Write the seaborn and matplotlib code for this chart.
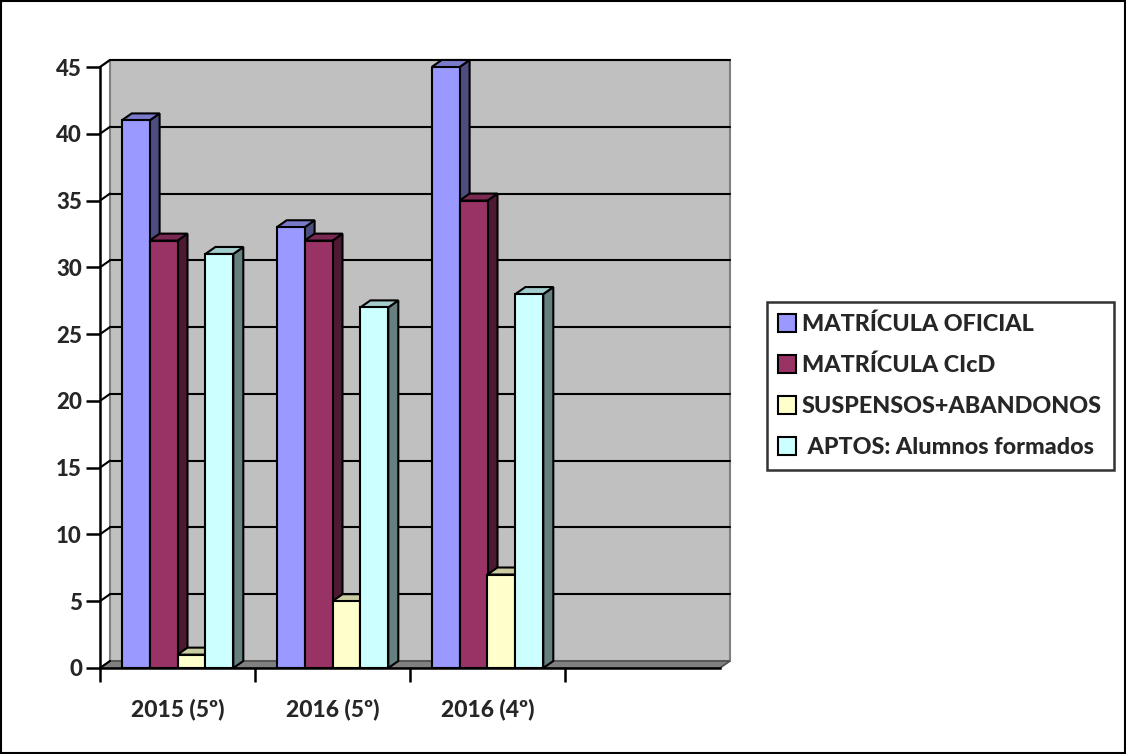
import numpy as np
import pandas as pd
import matplotlib
matplotlib.use("Agg")
import matplotlib.pyplot as plt
import matplotlib.colors as mcolors
from matplotlib.patches import Polygon, Rectangle
from matplotlib.lines import Line2D
import seaborn as sns

# Data
cursos = ["2015 (5º)", "2016 (5º)", "2016 (4º)", ""]
series = ["MATRÍCULA OFICIAL", "MATRÍCULA CIcD", "SUSPENSOS+ABANDONOS", "APTOS: Alumnos formados"]
matricula_oficial = [41, 33, 45]
matricula_cicd = [32, 32, 35]
suspensos = [1, 5, 7]
aptos = [31, 27, 28]
colores = ["#9999FF", "#993366", "#FFFFCC", "#CCFFFF"]
legend_labels = ["MATRÍCULA OFICIAL", "MATRÍCULA CIcD", "SUSPENSOS+ABANDONOS", " APTOS: Alumnos formados"]

rows = []
for serie, vals in zip(series, [matricula_oficial, matricula_cicd, suspensos, aptos]):
    for curso, v in zip(cursos[:3], vals):
        rows.append({"curso": curso, "serie": serie, "valor": v})
df = pd.DataFrame(rows)

sns.set_style("white")
plt.rcParams["font.family"] = ["Lato", "DejaVu Sans"]
FW = 900

W, H = 1126, 754
fig = plt.figure(figsize=(W / 100, H / 100), dpi=100)
ax_l, ax_r, ax_b, ax_t = 100, 720, 668, 67
ax = fig.add_axes([ax_l / W, 1 - ax_b / H, (ax_r - ax_l) / W, (ax_b - ax_t) / H])
ax.set_facecolor("none")

sns.barplot(data=df, x="curso", y="valor", hue="serie", order=cursos, hue_order=series,
            palette=colores, width=0.72, saturation=1, edgecolor="black", linewidth=1.5,
            legend=False, ax=ax)

ax.set_xlim(-0.5, 3.5)
ax.set_ylim(0, 45)

# 3D depth in data units
dx = 10 / ((ax_r - ax_l) / 4)
dy = 7 / ((ax_b - ax_t) / 45)
x0, x1 = -0.5, 3.5

# back wall
ax.add_patch(Rectangle((x0 + dx, dy), x1 - x0, 45, facecolor="#C0C0C0", edgecolor="#808080",
                       linewidth=1.5, zorder=0, clip_on=False))
# floor
ax.add_patch(Polygon([(x0, 0), (x1, 0), (x1 + dx, dy), (x0 + dx, dy)], closed=True,
                     facecolor="#808080", edgecolor="#505050", linewidth=1.2, zorder=0.5, clip_on=False))
# left wall edge
ax.plot([x0, x0 + dx], [45, 45 + dy], color="#808080", lw=1.5, zorder=0.6, clip_on=False)
# gridlines on back wall + connectors
for v in range(5, 50, 5):
    ax.plot([x0 + dx, x1 + dx], [v + dy, v + dy], color="black", lw=1.5, zorder=1, clip_on=False)
for v in range(0, 50, 5):
    ax.plot([x0, x0 + dx], [v, v + dy], color="black", lw=1.5, zorder=1, clip_on=False)

# fake 3D on bars
bars = sorted([p for p in ax.patches if isinstance(p, Rectangle) and p.get_height() > 0
               and p.get_zorder() > 0.9], key=lambda p: p.get_x())
for i, p in enumerate(bars):
    x, w, h = p.get_x(), p.get_width(), p.get_height()
    fc = np.array(mcolors.to_rgb(p.get_facecolor()))
    side = Polygon([(x + w, 0), (x + w + dx, dy), (x + w + dx, h + dy), (x + w, h)], closed=True,
                   facecolor=fc * 0.5, edgecolor="black", linewidth=1.5, zorder=3 + 2 * i, clip_on=False)
    top = Polygon([(x, h), (x + dx, h + dy), (x + w + dx, h + dy), (x + w, h)], closed=True,
                  facecolor=fc * 0.8, edgecolor="black", linewidth=1.5, zorder=3 + 2 * i, clip_on=False)
    ax.add_patch(side)
    ax.add_patch(top)
    p.set_zorder(4 + 2 * i)

# axes styling
for s in ["top", "right"]:
    ax.spines[s].set_visible(False)
for s in ["left", "bottom"]:
    ax.spines[s].set_color("black")
    ax.spines[s].set_linewidth(1.8)
    ax.spines[s].set_zorder(50)
ax.set_yticks(range(0, 50, 5))
ax.tick_params(axis="y", left=True, length=10, width=1.8, direction="out", labelsize=16, pad=3, color="black")
ax.set_xticks(range(4))
ax.set_xticklabels(cursos)
ax.tick_params(axis="x", which="major", bottom=False, length=0, pad=22, labelsize=16.5)
ax.set_xticks([-0.5, 0.5, 1.5, 2.5], minor=True)
ax.tick_params(axis="x", which="minor", bottom=True, length=10, width=1.8, color="black", direction="out")
for lbl in ax.get_yticklabels() + ax.get_xticklabels():
    lbl.set_fontweight(FW)
ax.set_xlabel("")
ax.set_ylabel("")

# legend
handles = [Line2D([0], [0], marker="s", linestyle="none", markersize=13, markerfacecolor=c,
                  markeredgecolor="black", markeredgewidth=1.5) for c in colores]
leg = fig.legend(handles, legend_labels, loc="upper left",
                 bbox_to_anchor=(767 / W, 1 - 302 / H), frameon=True, fancybox=False,
                 prop={"weight": FW, "size": 16.8}, handlelength=0.7, handletextpad=0.3,
                 labelspacing=0.85, borderpad=0.5, borderaxespad=0)
leg.get_frame().set_edgecolor("black")
leg.get_frame().set_linewidth(1.8)

# outer border
fig.add_artist(Rectangle((1 / W, 1 / H), (W - 2) / W, (H - 2) / H, transform=fig.transFigure,
                         fill=False, edgecolor="black", linewidth=1.5))

fig.savefig("out.png", dpi=100)
